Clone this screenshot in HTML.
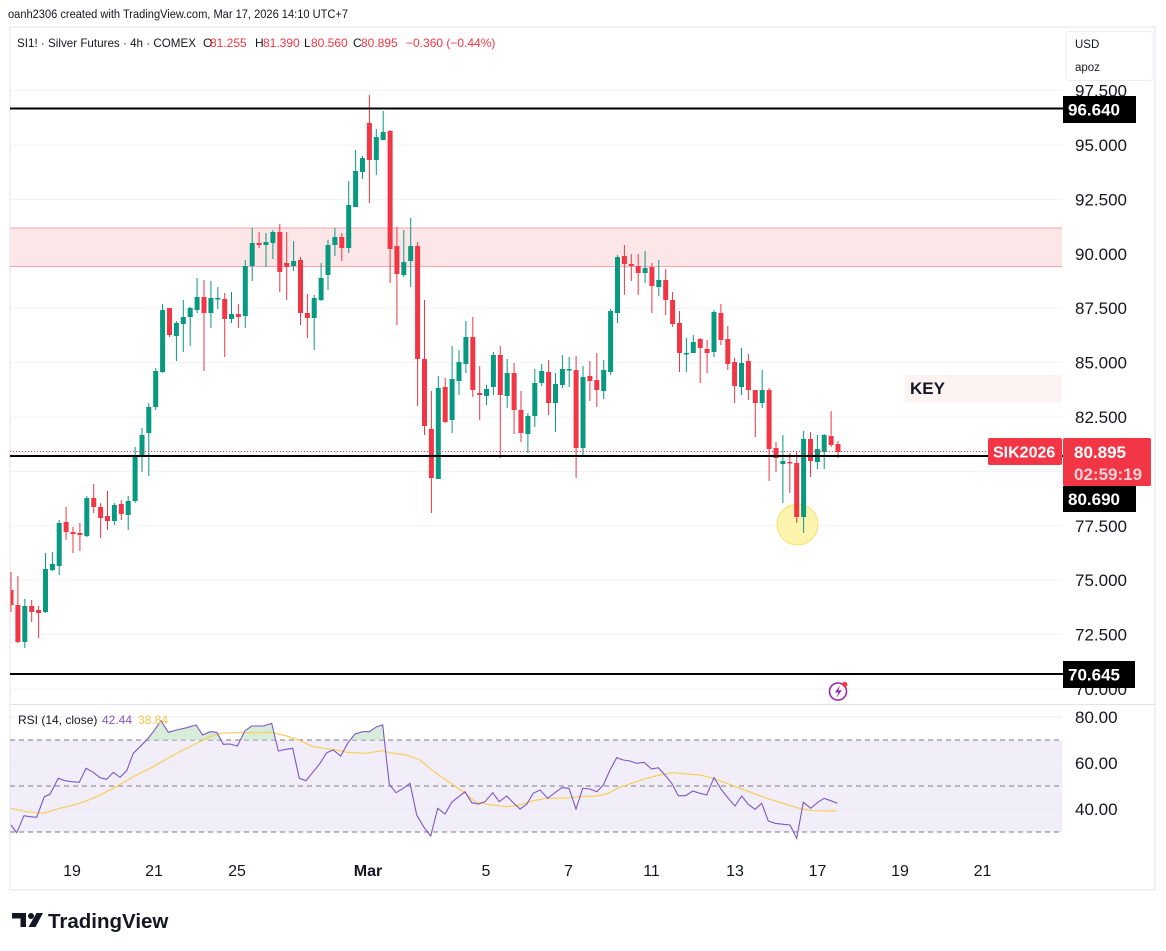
<!DOCTYPE html>
<html><head><meta charset="utf-8"><style>
html,body{margin:0;padding:0;background:#fff;}
svg{display:block;font-family:"Liberation Sans",sans-serif;}
</style></head><body>
<svg width="1166" height="951" viewBox="0 0 1166 951" xmlns="http://www.w3.org/2000/svg">
<defs>
<clipPath id="pane"><rect x="10.5" y="27" width="1052" height="677"/></clipPath>
<clipPath id="rsiclip"><rect x="10.5" y="705" width="1052" height="140"/></clipPath>
<clipPath id="ob"><rect x="10" y="690" width="1052" height="50"/></clipPath>
</defs>
<rect width="1166" height="951" fill="#fff"/>
<text x="8" y="18" font-size="11.5" fill="#131722" textLength="340" lengthAdjust="spacingAndGlyphs">oanh2306 created with TradingView.com, Mar 17, 2026 14:10 UTC+7</text>
<!-- frame -->
<rect x="10" y="27" width="1145" height="863" fill="#fff" stroke="#e0e3eb" stroke-width="1"/>
<!-- grid -->
<g stroke="#f0f3fa" stroke-width="1">
<path d="M10 90.6H1062M10 145H1062M10 199.4H1062M10 253.8H1062M10 308.2H1062M10 362.6H1062M10 417H1062M10 471.4H1062M10 525.8H1062M10 580.2H1062M10 634.6H1062M10 689H1062"/>
</g>
<!-- zone -->
<rect x="10" y="228" width="1052" height="38.5" fill="#fde6e7"/>
<path d="M10 228H1062M10 266.5H1062" stroke="#f2a5aa" stroke-width="1"/>
<!-- KEY -->
<rect x="905" y="375" width="157" height="27" fill="#fdf3f3"/>
<text x="910" y="394" font-size="17" font-weight="bold" fill="#131722">KEY</text>
<!-- circle highlight -->
<circle cx="797.5" cy="524.5" r="20.5" fill="#fbf29e" fill-opacity="0.85" stroke="#f3e178" stroke-width="1"/>
<g clip-path="url(#pane)">
<!-- green candles -->
<path stroke="#089981" stroke-width="1" fill="none" d="M24.8 599V648M45.5 553V613M52.4 552V571M59.2 520V575M86.8 496V537M114.4 503V525M128.2 496V530M135.1 447V503M142 428V472M148.8 403V476M155.7 368V410M162.6 304V373M176.4 321V361M183.3 300V352M190.2 307V346M197.1 278V313M210.9 281V328M217.8 287V309M231.5 292V323M245.3 260V328M252.2 228V281M266 233V267M272.9 230V259M293.6 241V271M314.2 295V350M321.1 263V301M328 240V290M334.9 228V256M348.7 181V253M355.6 150V207M362.5 156V179M376.3 129V175M383.2 111V140M403.8 230V277M410.7 218V287M438.3 376V479M452.1 346V433M459 350V395M465.9 321V373M486.5 385V405M493.4 352V395M507.2 359V408M527.9 413V453M534.8 369V427M541.7 364V386M555.5 373V432M562.4 355V388M569.2 357V387M583 366V457M603.7 360V399M610.6 309V375M617.5 255V323M645.1 251V283M658.8 260V296M686.4 338V372M693.3 335V353M714 310V357M741.5 348V395M762.2 370V408M782.9 435V503M803.6 431V533M817.4 435V469M824.2 434V469"/>
<g fill="#089981">
<rect x="22.3" y="606" width="5" height="36"/>
<rect x="43" y="569" width="5" height="43"/>
<rect x="49.9" y="564" width="5" height="6"/>
<rect x="56.7" y="523" width="5" height="43"/>
<rect x="84.3" y="498" width="5" height="38"/>
<rect x="111.9" y="505" width="5" height="16"/>
<rect x="125.7" y="501" width="5" height="14"/>
<rect x="132.6" y="455" width="5" height="46"/>
<rect x="139.5" y="435" width="5" height="21"/>
<rect x="146.3" y="407" width="5" height="26"/>
<rect x="153.2" y="371" width="5" height="36"/>
<rect x="160.1" y="310" width="5" height="62"/>
<rect x="173.9" y="323" width="5" height="13"/>
<rect x="180.8" y="317" width="5" height="7"/>
<rect x="187.7" y="308" width="5" height="9"/>
<rect x="194.6" y="297" width="5" height="13"/>
<rect x="208.4" y="298" width="5" height="15"/>
<rect x="215.3" y="298" width="5" height="1.5"/>
<rect x="229" y="314" width="5" height="5"/>
<rect x="242.8" y="266" width="5" height="50"/>
<rect x="249.7" y="243" width="5" height="23"/>
<rect x="263.5" y="242" width="5" height="3"/>
<rect x="270.4" y="232" width="5" height="11"/>
<rect x="291.1" y="261" width="5" height="5"/>
<rect x="311.7" y="298" width="5" height="20"/>
<rect x="318.6" y="278" width="5" height="22"/>
<rect x="325.5" y="245" width="5" height="30"/>
<rect x="332.4" y="237" width="5" height="8"/>
<rect x="346.2" y="205" width="5" height="43"/>
<rect x="353.1" y="171" width="5" height="36"/>
<rect x="360" y="158" width="5" height="14"/>
<rect x="373.8" y="137" width="5" height="23"/>
<rect x="380.7" y="132" width="5" height="8"/>
<rect x="401.3" y="262" width="5" height="13"/>
<rect x="408.2" y="246" width="5" height="15"/>
<rect x="435.8" y="388" width="5" height="91"/>
<rect x="449.6" y="379" width="5" height="41"/>
<rect x="456.5" y="362" width="5" height="19"/>
<rect x="463.4" y="337" width="5" height="27"/>
<rect x="484" y="389" width="5" height="7"/>
<rect x="490.9" y="355" width="5" height="32"/>
<rect x="504.7" y="373" width="5" height="23"/>
<rect x="525.4" y="416" width="5" height="18"/>
<rect x="532.3" y="383" width="5" height="33"/>
<rect x="539.2" y="371" width="5" height="12"/>
<rect x="553" y="384" width="5" height="19"/>
<rect x="559.9" y="369" width="5" height="16"/>
<rect x="566.7" y="369" width="5" height="1.5"/>
<rect x="580.5" y="377" width="5" height="71"/>
<rect x="601.2" y="370" width="5" height="21"/>
<rect x="608.1" y="311" width="5" height="61"/>
<rect x="615" y="257" width="5" height="56"/>
<rect x="642.6" y="268" width="5" height="5"/>
<rect x="656.3" y="280" width="5" height="7"/>
<rect x="683.9" y="353" width="5" height="1.5"/>
<rect x="690.8" y="342" width="5" height="11"/>
<rect x="711.5" y="312" width="5" height="40"/>
<rect x="739" y="363" width="5" height="24"/>
<rect x="759.7" y="390" width="5" height="13"/>
<rect x="780.4" y="461" width="5" height="3"/>
<rect x="801.1" y="439" width="5" height="78"/>
<rect x="814.9" y="449" width="5" height="13"/>
<rect x="821.7" y="435" width="5" height="17"/>
</g>
<!-- red candles -->
<path stroke="#f23645" stroke-width="1" fill="none" d="M11 572V612M17.9 576V643M31.7 600V622M38.6 606V638M66.1 507V540M73 527V553M79.9 523V551M93.7 484V513M100.6 503V538M107.5 491V530M121.3 500V520M169.5 308V337M204 280V371M224.7 293V357M238.4 304V328M259.1 232V248M279.8 224V292M286.7 232V300M300.5 257V325M307.4 294V338M341.8 233V261M369.4 95V203M390.1 130V283M396.9 227V325M417.6 242V406M424.5 300V435M431.4 391V513M445.2 378V423M472.8 317V397M479.7 366V420M500.3 346V458M514.1 363V434M521 391V442M548.6 360V415M576.1 356V478M589.9 361V401M596.8 353V407M624.4 245V295M631.3 254V281M638.2 254V295M651.9 263V313M665.7 269V315M672.6 292V327M679.5 311V372M700.2 338V383M707.1 340V373M720.9 304V345M727.8 326V370M734.6 358V403M748.4 354V400M755.3 390V437M769.1 388V481M776 442V472M789.8 453V493M796.7 452V523M810.5 432V477M831.1 411V447M838 441V458"/>
<g fill="#f23645">
<rect x="8.5" y="590" width="5" height="15"/>
<rect x="15.4" y="605" width="5" height="37"/>
<rect x="29.2" y="606" width="5" height="6"/>
<rect x="36.1" y="610" width="5" height="3"/>
<rect x="63.6" y="522" width="5" height="10"/>
<rect x="70.5" y="532" width="5" height="2"/>
<rect x="77.4" y="533" width="5" height="2"/>
<rect x="91.2" y="498" width="5" height="9"/>
<rect x="98.1" y="507" width="5" height="11"/>
<rect x="105" y="516" width="5" height="5"/>
<rect x="118.8" y="504" width="5" height="10"/>
<rect x="167" y="308" width="5" height="27"/>
<rect x="201.5" y="297" width="5" height="16"/>
<rect x="222.2" y="299" width="5" height="20"/>
<rect x="235.9" y="314" width="5" height="3"/>
<rect x="256.6" y="243" width="5" height="2"/>
<rect x="277.3" y="232" width="5" height="40"/>
<rect x="284.2" y="263" width="5" height="4"/>
<rect x="298" y="260" width="5" height="53"/>
<rect x="304.9" y="313" width="5" height="5"/>
<rect x="339.3" y="237" width="5" height="11"/>
<rect x="366.9" y="123" width="5" height="37"/>
<rect x="387.6" y="131" width="5" height="118"/>
<rect x="394.4" y="246" width="5" height="28"/>
<rect x="415.1" y="246" width="5" height="113"/>
<rect x="422" y="359" width="5" height="67"/>
<rect x="428.9" y="429" width="5" height="49"/>
<rect x="442.7" y="387" width="5" height="35"/>
<rect x="470.3" y="337" width="5" height="53"/>
<rect x="477.2" y="393" width="5" height="2"/>
<rect x="497.8" y="355" width="5" height="40"/>
<rect x="511.6" y="373" width="5" height="37"/>
<rect x="518.5" y="410" width="5" height="23"/>
<rect x="546.1" y="372" width="5" height="31"/>
<rect x="573.6" y="370" width="5" height="78"/>
<rect x="587.4" y="376" width="5" height="5"/>
<rect x="594.3" y="380" width="5" height="10"/>
<rect x="621.9" y="256" width="5" height="8"/>
<rect x="628.8" y="264" width="5" height="2"/>
<rect x="635.7" y="266" width="5" height="7"/>
<rect x="649.4" y="267" width="5" height="19"/>
<rect x="663.2" y="280" width="5" height="20"/>
<rect x="670.1" y="300" width="5" height="24"/>
<rect x="677" y="323" width="5" height="30"/>
<rect x="697.7" y="339" width="5" height="9"/>
<rect x="704.6" y="349" width="5" height="4"/>
<rect x="718.4" y="313" width="5" height="27"/>
<rect x="725.3" y="339" width="5" height="25"/>
<rect x="732.1" y="362" width="5" height="24"/>
<rect x="745.9" y="361" width="5" height="29"/>
<rect x="752.8" y="390" width="5" height="13"/>
<rect x="766.6" y="390" width="5" height="59"/>
<rect x="773.5" y="448" width="5" height="10"/>
<rect x="787.3" y="462" width="5" height="1.5"/>
<rect x="794.2" y="463" width="5" height="54"/>
<rect x="808" y="439" width="5" height="22"/>
<rect x="828.6" y="436" width="5" height="9"/>
<rect x="835.5" y="444" width="5" height="8"/>
</g>
</g>
<!-- price line dotted -->
<path d="M10 451.5H988" stroke="#f23645" stroke-width="1" stroke-dasharray="1 2"/>
<!-- black levels -->
<path d="M10 108.5H1063M10 456H1063M10 674H1063" stroke="#000" stroke-width="2"/>
<!-- legend -->
<g font-size="12">
<text x="17" y="47" fill="#131722" textLength="179" lengthAdjust="spacingAndGlyphs">SI1! · Silver Futures · 4h · COMEX</text>
<text x="203" y="47" fill="#131722">O</text><text x="210" y="47" fill="#f23645">81.255</text>
<text x="255" y="47" fill="#131722">H</text><text x="263" y="47" fill="#f23645">81.390</text>
<text x="304" y="47" fill="#131722">L</text><text x="311" y="47" fill="#f23645">80.560</text>
<text x="353" y="47" fill="#131722">C</text><text x="361" y="47" fill="#f23645">80.895</text>
<text x="406" y="47" fill="#f23645">−0.360 (−0.44%)</text>
</g>
<!-- price axis -->
<g font-size="17" fill="#131722">
<text x="1075" y="96.6">97.500</text>
<text x="1075" y="151">95.000</text>
<text x="1075" y="205.4">92.500</text>
<text x="1075" y="259.8">90.000</text>
<text x="1075" y="314.2">87.500</text>
<text x="1075" y="368.6">85.000</text>
<text x="1075" y="423">82.500</text>
<text x="1075" y="531.8">77.500</text>
<text x="1075" y="586.2">75.000</text>
<text x="1075" y="640.6">72.500</text>
<text x="1075" y="695">70.000</text>
</g>
<!-- USD box -->
<rect x="1066" y="31.5" width="87" height="49" rx="3" fill="#fff" stroke="#eceef2"/>
<text x="1075" y="48" font-size="11.5" fill="#131722">USD</text>
<text x="1075" y="71" font-size="11.5" fill="#131722">apoz</text>
<!-- labels -->
<rect x="1063" y="96" width="73" height="27" fill="#000"/>
<text x="1068" y="115.5" font-size="17" font-weight="bold" fill="#fff">96.640</text>
<rect x="1063" y="486" width="73" height="26" fill="#000"/>
<text x="1068" y="505" font-size="17" font-weight="bold" fill="#fff">80.690</text>
<rect x="1063" y="661" width="72" height="27" fill="#000"/>
<text x="1068" y="680.5" font-size="17" font-weight="bold" fill="#fff">70.645</text>
<rect x="1063" y="438" width="88" height="48" rx="2" fill="#f23645"/>
<text x="1074" y="458" font-size="17" font-weight="bold" fill="#fff">80.895</text>
<text x="1074" y="480" font-size="17" font-weight="bold" fill="#fcd3d6">02:59:19</text>
<rect x="988" y="438" width="74" height="27" rx="2" fill="#f23645"/>
<text x="993" y="457.5" font-size="16" font-weight="bold" fill="#fff">SIK2026</text>
<!-- lightning icon -->
<circle cx="838" cy="691.5" r="8.5" fill="#fff" stroke="#9c27b0" stroke-width="1.6"/>
<path d="M840 685.5L834.8 692.5H838.3L836.6 697.8L841.8 690.3H838.4Z" fill="#9c27b0"/>
<circle cx="844.8" cy="684.5" r="2.6" fill="#f23645"/>
<!-- pane separator -->
<path d="M10 704.5H1155" stroke="#e0e3eb" stroke-width="1"/>
<!-- RSI pane -->
<rect x="10.5" y="740" width="1051.5" height="92" fill="#f2eef9"/>
<path d="M10 717H1062M10 763H1062M10 809H1062" stroke="#ebe8f3" stroke-width="1"/>
<path d="M10 740H1062M10 786H1062M10 832H1062" stroke="#787b86" stroke-width="1" stroke-dasharray="5 4"/>
<g clip-path="url(#rsiclip)">
<path clip-path="url(#ob)" fill="#c8e6c9" fill-opacity="0.7" d="M11,825 L16.7,832.7 24,815.7 30,816.7 36.7,817.3 44.3,796.7 50,794.3 58.3,778.3 65,780.7 71.7,781.7 79.3,782.3 86,768.3 93.3,772.3 100,777.7 106.7,779.3 113.3,772.3 120,777.3 126.7,770.7 133.3,753.3 140,746.7 146.7,740 153.3,731.7 161,720.7 168.3,732.3 176.7,730 186.7,727.7 196,725 202.7,735 210,731.7 216.7,732.3 223.3,744.3 230,744 237.3,746 245,730.7 251.7,726 263.3,726 271.7,723.3 278.3,751 286,749.3 292.7,748.3 299.3,778.3 306,780.7 313.3,771.7 320,763.3 326.7,752.7 333.3,750 340.7,756 348.3,742.3 355,734 362.7,731.7 369.3,731.7 376.7,726.7 382.7,725 389.3,784.3 396,792.7 L396,740 L11,740 Z"/>
<polyline fill="none" stroke="#f7cf57" stroke-width="1.2" points="11,808.3 26.7,811.7 43.3,813.3 60,808.3 80,803.3 96.7,796.7 113.3,788.3 133.3,776.7 153.3,766.7 173.3,755 193.3,745 210,736.7 220,733.3 233.3,732.7 253.3,732.7 271.7,732.3 286.7,736 300,740.7 313.3,746.7 326.7,748.7 336.7,750 346.7,752.3 366.7,753.3 381.7,750.7 390,752.7 406.7,755 420,760 430,768.3 440,776 453.3,785 463.3,791.7 475,801.7 486.7,804.3 506.7,806.7 520,805 533.3,800.7 546.7,798.3 563.3,798.3 580,796.7 596.7,796 606.7,794 620,787.3 633.3,782.7 646.7,778.3 660,775 673.3,772.7 686.7,774 700,775 713.3,778.3 726.7,783.3 740,788.3 753.3,793.3 766.7,798.3 780,802.3 793.3,806.7 803.3,809.3 813.3,810.7 836.7,811"/>
<polyline fill="none" stroke="#7e57c2" stroke-width="1.1" points="11,825 16.7,832.7 24,815.7 30,816.7 36.7,817.3 44.3,796.7 50,794.3 58.3,778.3 65,780.7 71.7,781.7 79.3,782.3 86,768.3 93.3,772.3 100,777.7 106.7,779.3 113.3,772.3 120,777.3 126.7,770.7 133.3,753.3 140,746.7 146.7,740 153.3,731.7 161,720.7 168.3,732.3 176.7,730 186.7,727.7 196,725 202.7,735 210,731.7 216.7,732.3 223.3,744.3 230,744 237.3,746 245,730.7 251.7,726 263.3,726 271.7,723.3 278.3,751 286,749.3 292.7,748.3 299.3,778.3 306,780.7 313.3,771.7 320,763.3 326.7,752.7 333.3,750 340.7,756 348.3,742.3 355,734 362.7,731.7 369.3,731.7 376.7,726.7 382.7,725 389.3,784.3 396,792.7 403.3,788.3 410,783.3 416.7,815 424,827.3 430.7,836 437.7,808.3 445,814 451.7,802.3 465,791.7 471.7,802.7 478.3,804 485,801.7 492.7,792.7 499.3,801.7 506.7,796 513.3,802.7 520,809 526.7,804.3 533.3,793.3 540,790 547.7,798.3 555,792.7 561.7,787.7 569,788.3 576,809 582.7,788.3 590,789 596.7,791.7 603.3,785 610,770 616.7,757.7 623.3,760 630,761 636.7,763.3 644,762.3 651.7,769 658.3,767.7 665,775 671.7,783.3 678.3,795.7 685.7,795.7 692.7,791 700,793.3 706.7,795 714,777.7 721.7,790 728.3,798.3 735,806 741.7,796 748.3,804.3 755,809.3 761.7,803.3 768.3,821 775,823.3 783.3,824.3 790,825 796.7,838.3 803.3,802.3 810.7,808.3 817.3,802.7 824,798.3 830.7,800.7 837.3,803.3"/>
</g>
<text x="18" y="724" font-size="12" fill="#131722">RSI (14, close)</text>
<text x="102" y="724" font-size="12" fill="#7e57c2">42.44</text>
<text x="138" y="724" font-size="12" fill="#f5c44b">38.84</text>
<g font-size="17" fill="#131722">
<text x="1075" y="723">80.00</text>
<text x="1075" y="769">60.00</text>
<text x="1075" y="815">40.00</text>
</g>
<!-- date axis -->
<g font-size="16" fill="#131722" text-anchor="middle">
<text x="72" y="876">19</text>
<text x="154" y="876">21</text>
<text x="237" y="876">25</text>
<text x="368" y="876" font-weight="bold">Mar</text>
<text x="486" y="876">5</text>
<text x="568.5" y="876">7</text>
<text x="651.5" y="876">11</text>
<text x="735" y="876">13</text>
<text x="817.5" y="876">17</text>
<text x="900" y="876">19</text>
<text x="982.5" y="876">21</text>
</g>
<!-- logo -->
<g fill="#131722">
<path d="M12 913H26V927H20.5V918.5H12Z"/>
<circle cx="31" cy="916" r="3"/>
<path d="M36.5 913H43L35.5 927H28.5Z"/>
</g>
<text x="48" y="928" font-size="20.5" font-weight="bold" fill="#131722">TradingView</text>
</svg>
</body></html>
